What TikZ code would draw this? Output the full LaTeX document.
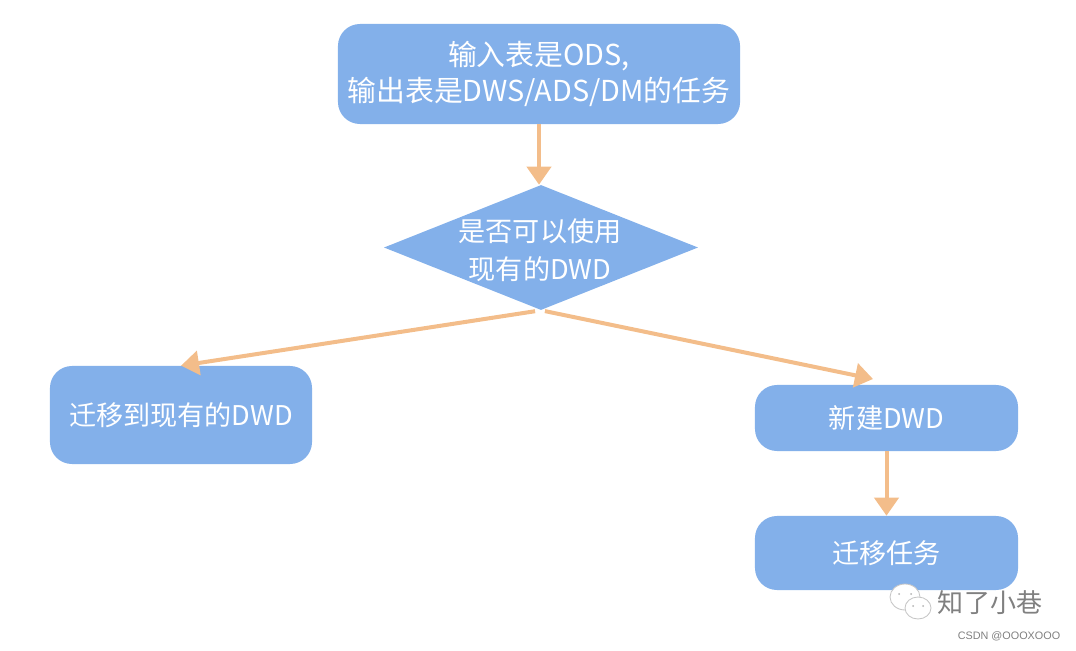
\documentclass[tikz,border=0pt]{standalone}
\usepackage{fontspec}
\setmainfont{Noto Sans CJK SC}
\newfontfamily\markfont{Liberation Sans}
\usetikzlibrary{arrows.meta,shapes.geometric}
\definecolor{boxblue}{HTML}{83B0EA}
\definecolor{arrowtan}{HTML}{F3BD8A}
\tikzset{
    flowbox/.style={fill=boxblue,rounded corners=0.55cm,text=white,align=center,
        font=\fontsize{19.3}{25}\selectfont},
    flowarrow/.style={draw=arrowtan,line width=0.1cm,-{Triangle[width=0.6cm,length=0.45cm]}},
    bubble/.style={draw=gray!45,fill=white,line width=0.6pt},
}
\begin{document}
\begin{tikzpicture}[x=0.025cm,y=-0.025cm]
    \useasboundingbox (0,0) rectangle (1076,650);
    % boxes
    \node[flowbox,minimum width=10.05cm,minimum height=2.5cm,font=\fontsize{20.5}{25}\selectfont] (Source) at (539,74) {输入表是ODS,\\输出表是DWS/ADS/DM的任务};
    \node[fill=boxblue,diamond,aspect=2.5,minimum width=7.85cm,minimum height=3.125cm,inner sep=0pt] (Check) at (541,247.5) {};
    \node[text=white,align=center,font=\fontsize{19.3}{27}\selectfont] (CheckText) at (540,250) {是否可以使用\\现有的DWD};
    \node[flowbox,minimum width=6.55cm,minimum height=2.45cm] (Migrate) at (181,415) {迁移到现有的DWD};
    \node[flowbox,minimum width=6.575cm,minimum height=1.65cm] (Create) at (886.5,418) {新建DWD};
    \node[flowbox,minimum width=6.575cm,minimum height=1.85cm] (Move) at (886.5,553) {迁移任务};
    \coordinate (CreateTop) at (873,379);
    % arrows
    \draw[flowarrow] (Source.south) -- (Source.south |- Check.north);
    \draw[flowarrow,shorten <=0.15cm] (Check.south) -- (Migrate.north);
    \draw[flowarrow,shorten <=0.1cm] (Check.south) -- (CreateTop);
    \draw[flowarrow] (Create.south) -- (Move.north);
    % watermark
    \draw[bubble] (905,597) ellipse (15 and 13);
    \fill[gray!60] (899,594) circle (1) (911,594) circle (1);
    \draw[bubble] (918,608) ellipse (13 and 11);
    \fill[gray!60] (913,606) circle (1) (923,606) circle (1);
    \node[text=gray,font=\fontsize{18.5}{20}\selectfont,inner sep=0pt] (MarkName) at (990,603) {知了小巷};
    \node[text=gray,font=\markfont\fontsize{7.7}{10}\selectfont,inner sep=0pt] (MarkSite) at (1009,636) {CSDN @OOOXOOO};
\end{tikzpicture}
\end{document}
